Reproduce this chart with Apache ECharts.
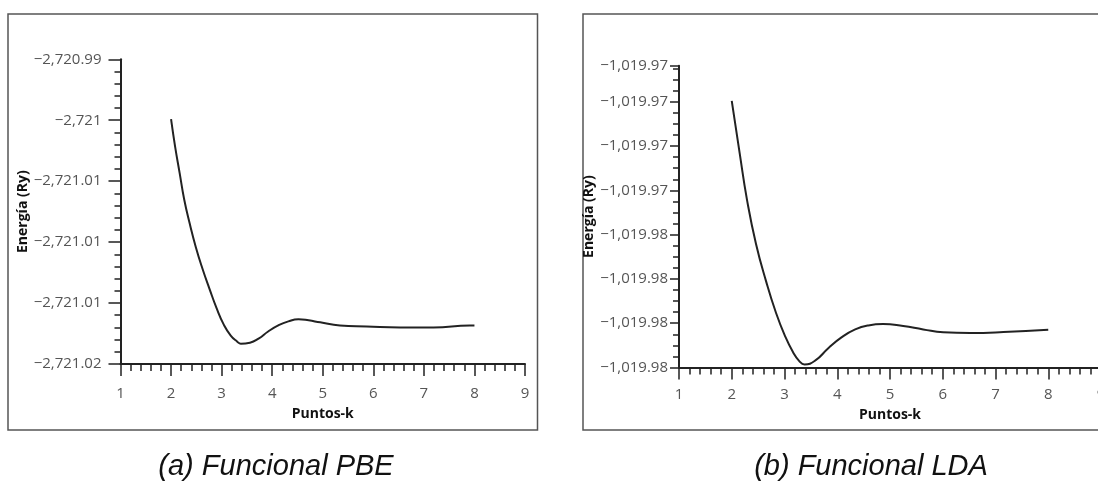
<!DOCTYPE html>
<html>
<head>
<meta charset="utf-8">
<script src="https://cdn.jsdelivr.net/npm/echarts@6/dist/echarts.min.js"></script>
<style>
  html, body { margin: 0; padding: 0; background: #fff; }
  #main { width: 1098px; height: 483px; }
</style>
</head>
<body>
<div id="main"></div>
<script>
// k-points and energies
const kPBE = [2, 2.08, 2.17, 2.26, 2.37, 2.49, 2.62, 2.76, 2.9, 3.04, 3.18, 3.31, 3.38, 3.56, 3.73, 3.92,
  4.12, 4.32, 4.52, 4.72, 4.95, 5.34, 5.87, 6.53, 7.19, 7.91, 8];
const ePBE = [-2720.9959, -2720.9986, -2721.0012, -2721.0038, -2721.0062, -2721.0085, -2721.0106, -2721.0126,
  -2721.0145, -2721.0161, -2721.0172, -2721.0178, -2721.0180, -2721.0179, -2721.0175, -2721.0168,
  -2721.0162, -2721.0158, -2721.0156, -2721.0157, -2721.0159, -2721.0162, -2721.0163, -2721.0164,
  -2721.0164, -2721.0162, -2721.0162];

const kLDA = [2, 2.15, 2.29, 2.46, 2.65, 2.84, 3.01, 3.16, 3.28, 3.38, 3.58, 3.83, 4.08, 4.34, 4.59, 4.87,
  5.25, 5.63, 6.01, 6.52, 7.15, 8];
const eLDA = [-1019.96996, -1019.97232, -1019.97444, -1019.97642, -1019.97810, -1019.97954, -1019.98058,
  -1019.98130, -1019.98171, -1019.98186, -1019.98169, -1019.98113, -1019.98064, -1019.98028, -1019.98010,
  -1019.98004, -1019.98013, -1019.98028, -1019.98041, -1019.98044, -1019.98040, -1019.98029];

// y tick labels as printed, bottom to top
const yLabelsPBE = ['−2,721.02', '−2,721.01', '−2,721.01', '−2,721.01', '−2,721', '−2,720.99'];
const yLabelsLDA = ['−1,019.98', '−1,019.98', '−1,019.98', '−1,019.98', '−1,019.97', '−1,019.97', '−1,019.97', '−1,019.97'];

const captions = ['(a) Funcional PBE', '(b) Funcional LDA'];
const xName = 'Puntos-k';
const yName = 'Energía (Ry)';

const yPBE = { min: -2721.02, max: -2720.99, interval: 0.006 };
const yLDA = { min: -1019.982, max: -1019.96837, interval: 0.002 };

const pair = (xs, ys) => xs.map((x, i) => [x, ys[i]]);

const labelFont = { color: '#555', fontSize: 15, fontFamily: 'Open Sans' };
const nameFont = { color: '#111', fontSize: 14, fontWeight: 'bold', fontFamily: 'Open Sans' };
const captionFont = { fontFamily: 'Liberation Sans', fontStyle: 'italic', fontWeight: 'normal', fontSize: 29, color: '#111' };

function xAxis(gridIndex, opts) {
  return {
    type: 'value', gridIndex: gridIndex, min: 1, max: 9, interval: 1,
    name: xName, nameLocation: 'middle', nameGap: opts.nameGap, nameTextStyle: nameFont,
    axisLine: { lineStyle: { color: '#222', width: 2 } },
    axisTick: { length: 12, lineStyle: { color: '#222', width: 1.5 } },
    minorTick: { show: true, splitNumber: 5, length: 7, lineStyle: { color: '#222', width: 1.5 } },
    axisLabel: Object.assign({ margin: opts.margin }, labelFont),
    splitLine: { show: false }
  };
}

function yAxis(gridIndex, range, labels, opts) {
  return {
    type: 'value', gridIndex: gridIndex,
    min: range.min, max: range.max, interval: range.interval,
    name: yName, nameLocation: 'middle', nameGap: opts.nameGap, nameRotate: 90, nameTextStyle: nameFont,
    axisLine: { show: true, lineStyle: { color: '#222', width: 2 } },
    axisTick: { show: true, length: opts.tick, lineStyle: { color: '#222', width: 1.5 } },
    minorTick: { show: true, splitNumber: opts.minor, length: 6, lineStyle: { color: '#222', width: 1.5 } },
    axisLabel: Object.assign({
      margin: opts.margin,
      formatter: function (v) {
        return labels[Math.round((v - range.min) / range.interval)] || '';
      }
    }, labelFont),
    splitLine: { show: false }
  };
}

const chart = echarts.init(document.getElementById('main'), null, { renderer: 'canvas' });

chart.setOption({
  animation: false,
  backgroundColor: '#fff',
  title: [
    { text: captions[0], left: 271, top: 447, textAlign: 'center', textStyle: captionFont },
    { text: captions[1], left: 866, top: 447, textAlign: 'center', textStyle: captionFont }
  ],
  graphic: [
    { type: 'rect', shape: { x: 8, y: 14, width: 529.5, height: 416 },
      style: { fill: 'none', stroke: '#555', lineWidth: 1.5 }, z: -1 },
    { type: 'rect', shape: { x: 583, y: 14, width: 600, height: 416 },
      style: { fill: 'none', stroke: '#555', lineWidth: 1.5 }, z: -1 }
  ],
  grid: [
    { left: 120.5, top: 59.3, width: 404.5, height: 304.7, outerBoundsMode: 'none' },
    { left: 679, top: 65.7, width: 422, height: 301.8, outerBoundsMode: 'none' }
  ],
  xAxis: [
    xAxis(0, { margin: 22, nameGap: 43 }),
    xAxis(1, { margin: 20, nameGap: 41 })
  ],
  yAxis: [
    yAxis(0, yPBE, yLabelsPBE, { nameGap: 90, tick: 12, minor: 5, margin: 19 }),
    yAxis(1, yLDA, yLabelsLDA, { nameGap: 76, tick: 9, minor: 4, margin: 11 })
  ],
  series: [
    { type: 'line', xAxisIndex: 0, yAxisIndex: 0, data: pair(kPBE, ePBE), smooth: 0.5,
      showSymbol: false, lineStyle: { color: '#222', width: 2 } },
    { type: 'line', xAxisIndex: 1, yAxisIndex: 1, data: pair(kLDA, eLDA), smooth: 0.5,
      showSymbol: false, lineStyle: { color: '#222', width: 2 } }
  ]
});
</script>
</body>
</html>
